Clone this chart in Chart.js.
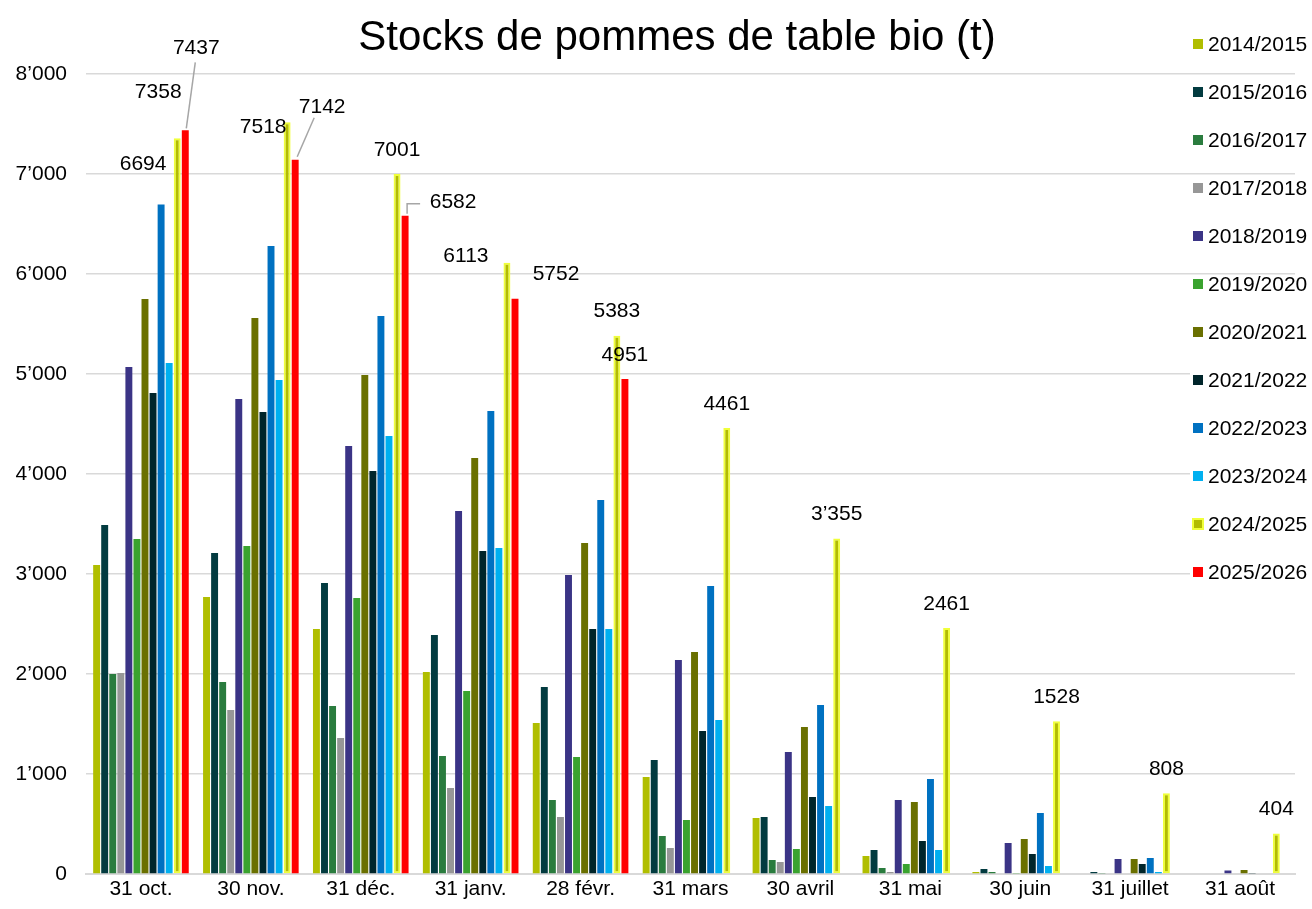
<!DOCTYPE html>
<html>
<head>
<meta charset="utf-8">
<script src="https://cdn.jsdelivr.net/npm/chart.js@4.4.1/dist/chart.umd.min.js"></script>
<style>
  html, body { margin: 0; padding: 0; background: #fff; }
  #wrap { width: 1312px; height: 909px; }
</style>
</head>
<body>
<div id="wrap"><canvas id="stocks"></canvas></div>
<script>
/* Stocks de pommes de table bio (t) - par saison */

const categories = ['31 oct.', '30 nov.', '31 déc.', '31 janv.', '28 févr.', '31 mars',
  '30 avril', '31 mai', '30 juin', '31 juillet', '31 août'];

const seasons = ['2014/2015', '2015/2016', '2016/2017', '2017/2018', '2018/2019', '2019/2020',
  '2020/2021', '2021/2022', '2022/2023', '2023/2024', '2024/2025', '2025/2026'];

const s2014 = [3090, 2770, 2450, 2020, 1510, 970, 560, 180, 20, 0, 0];
const s2015 = [3490, 3210, 2910, 2390, 1870, 1140, 570, 240, 50, 20, 0];
const s2016 = [2000, 1920, 1680, 1180, 740, 380, 140, 60, 20, 5, 0];
const s2017 = [2010, 1640, 1360, 860, 570, 260, 120, 20, 0, 0, 0];
const s2018 = [5070, 4750, 4280, 3630, 2990, 2140, 1220, 740, 310, 150, 35];
const s2019 = [3350, 3280, 2760, 1830, 1170, 540, 250, 100, 10, 0, 0];
const s2020 = [5750, 5560, 4990, 4160, 3310, 2220, 1470, 720, 350, 150, 40];
const s2021 = [4810, 4620, 4030, 3230, 2450, 1430, 770, 330, 200, 100, 10];
const s2022 = [6694, 6280, 5580, 4630, 3740, 2880, 1690, 950, 610, 160, 0];
const s2023 = [5110, 4940, 4380, 3260, 2450, 1540, 680, 240, 80, 20, 0];
const s2024 = [7358, 7518, 7001, 6113, 5383, 4461, 3355, 2461, 1528, 808, 404];
const s2025 = [7437, 7142, 6582, 5752, 4951, null, null, null, null, null, null];

const yTicks = [0, 1000, 2000, 3000, 4000, 5000, 6000, 7000, 8000];

const seriesValues = [s2014, s2015, s2016, s2017, s2018, s2019, s2020, s2021, s2022, s2023, s2024, s2025];
const colors = ['#b0be00', '#023b40', '#2a7c3e', '#979797', '#3b3486', '#3aa32f',
  '#6a7000', '#00252a', '#0071c1', '#00b0f0', '#b2bc00', '#ff0000'];
const yellowEdge = '#f0ff3a';

// étiquettes de valeurs : [dataset, index]
const labelled = [[8, 0]];
s2024.forEach((v, i) => labelled.push([10, i]));
s2025.forEach((v, i) => { if (v !== null) labelled.push([11, i]); });

// décalages des étiquettes par rapport au haut de la barre (px)
const labelNudge = {
  '8:0': [-18, -40],
  '10:0': [-19, -46],
  '11:0': [11, -82],
  '10:1': [-24, 5],
  '11:1': [27, -53],
  '11:2': [48, -14],
  '10:3': [-41, -6],
  '11:3': [41, -25]
};
const leaderLines = {
  '11:0': [[10, -68], [1, -2]],
  '11:1': [[19, -42], [2, -3]],
  '11:2': [[2, -2], [2, -12], [15, -12]]
};
const withSeparator = ['10:6'];

const FONT = '"Liberation Sans", Arial, sans-serif';

function fmt(v) {
  return String(v).replace(/\B(?=(\d{3})+(?!\d))/g, '\u2019');
}

const overlay = {
  id: 'overlay',
  afterDatasetsDraw(chart) {
    const ctx = chart.ctx;
    ctx.save();

    // titre
    ctx.fillStyle = '#000';
    ctx.font = '42px ' + FONT;
    ctx.textAlign = 'center';
    ctx.textBaseline = 'middle';
    ctx.fillText('Stocks de pommes de table bio (t)', 677, 38);

    // étiquettes
    ctx.font = '21px ' + FONT;
    labelled.forEach(([ds, idx]) => {
      const bar = chart.getDatasetMeta(ds).data[idx];
      const key = ds + ':' + idx;
      const nudge = labelNudge[key] || [0, -24];
      const v = seriesValues[ds][idx];
      const txt = withSeparator.includes(key) ? fmt(v) : String(v);
      ctx.fillStyle = '#000';
      ctx.fillText(txt, bar.x + nudge[0], bar.y + nudge[1]);
      const line = leaderLines[key];
      if (line) {
        ctx.strokeStyle = '#a6a6a6';
        ctx.lineWidth = 1.5;
        ctx.beginPath();
        line.forEach((p, j) => {
          if (j === 0) ctx.moveTo(bar.x + p[0], bar.y + p[1]);
          else ctx.lineTo(bar.x + p[0], bar.y + p[1]);
        });
        ctx.stroke();
      }
    });

    // légende
    ctx.textAlign = 'left';
    seasons.forEach((name, i) => {
      const cy = 44 + i * 48;
      ctx.fillStyle = '#fff';
      ctx.fillRect(1190, cy - 9, 122, 18);
      if (i === 10) {
        ctx.fillStyle = yellowEdge;
        ctx.fillRect(1192, cy - 6, 12, 12);
        ctx.fillStyle = colors[i];
        ctx.fillRect(1194, cy - 4, 8, 8);
      } else {
        ctx.fillStyle = colors[i];
        ctx.fillRect(1193, cy - 5, 10, 10);
      }
      ctx.fillStyle = '#000';
      ctx.fillText(name, 1208, cy + 1);
    });
    ctx.restore();
  }
};

new Chart(document.getElementById('stocks'), {
  type: 'bar',
  data: {
    labels: categories,
    datasets: seasons.map((name, i) => ({
      label: name,
      data: seriesValues[i],
      backgroundColor: colors[i],
      borderColor: i === 10 ? yellowEdge : colors[i],
      borderWidth: i === 10 ? 2 : 0,
      borderSkipped: i === 10 ? false : 'start'
    }))
  },
  options: {
    responsive: true,
    maintainAspectRatio: false,
    animation: false,
    layout: { padding: { top: 74, right: 17, left: 0, bottom: 0 } },
    datasets: { bar: { categoryPercentage: 0.88, barPercentage: 0.86 } },
    plugins: {
      legend: { display: false },
      title: { display: false },
      tooltip: { enabled: false }
    },
    scales: {
      x: {
        grid: { display: false },
        border: { color: '#d9d9d9', width: 2 },
        ticks: { color: '#000', font: { family: FONT, size: 21 }, padding: -5, maxRotation: 0 },
        afterFit(s) { s.height = 35; }
      },
      y: {
        min: 0,
        max: 8000,
        afterBuildTicks(s) { s.ticks = yTicks.map(v => ({ value: v })); },
        ticks: { color: '#000', font: { family: FONT, size: 21 }, padding: 19, callback: v => fmt(v) },
        grid: { color: '#d9d9d9', lineWidth: 1.5, drawTicks: false },
        border: { display: false },
        afterFit(s) { s.width = 86; }
      }
    }
  },
  plugins: [overlay]
});
</script>
</body>
</html>
